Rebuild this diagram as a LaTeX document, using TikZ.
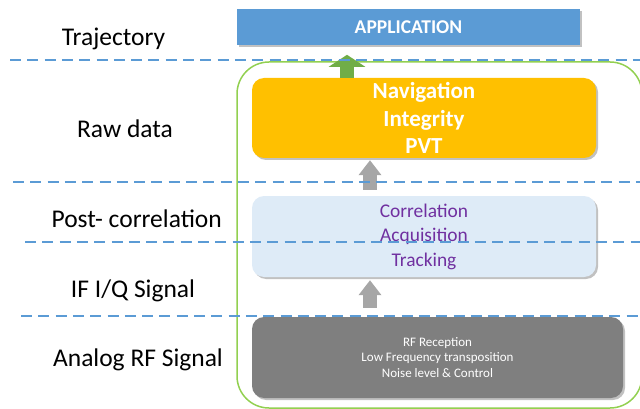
\documentclass[tikz,border=0pt]{standalone}
\usepackage{fontspec}
\setmainfont{Carlito}
\usetikzlibrary{arrows.meta,shadows}
\definecolor{appblue}{HTML}{5B9BD5}
\definecolor{orng}{HTML}{FFC000}
\definecolor{lblue}{HTML}{DEEBF7}
\definecolor{dgray}{HTML}{7F7F7F}
\definecolor{agray}{HTML}{A6A6A6}
\definecolor{agreen}{HTML}{70AD47}
\definecolor{cgreen}{HTML}{92D050}
\definecolor{purp}{HTML}{7030A0}
\tikzset{
  lbl/.style={anchor=base, text=black, font=\fontsize{25.5}{30}\selectfont, inner sep=0pt},
  shad/.style={drop shadow={shadow xshift=2pt, shadow yshift=-2pt, opacity=0.35, fill=black!70}},
  box/.style={rounded corners=12pt, inner sep=0pt, align=center, shad},
  dashline/.style={draw=appblue, line width=2.7pt, dash pattern=on 11pt off 6.3pt},
  grayarrow/.style={draw=agray, line width=14pt, -{Triangle[width=22pt,length=15pt]}},
  greenarrow/.style={draw=agreen, line width=14pt, -{Triangle[width=36pt,length=12pt]}},
}
\begin{document}
\begin{tikzpicture}[x=1pt,y=-1pt]
\useasboundingbox (0,0) rectangle (640,409);
% container
\draw[cgreen, line width=1.5pt, rounded corners=32pt] (237,62) rectangle (642,408);
% boxes
\node[box, rounded corners=0pt, fill=appblue, minimum width=343pt, minimum height=36pt,
  text=white, font=\bfseries\fontsize{19.5}{22}\selectfont] (app) at (408.5,27) {APPLICATION};
\node[box, fill=orng, minimum width=344pt, minimum height=80pt,
  text=white, font=\bfseries\fontsize{23}{27.5}\selectfont] (raw) at (424,118) {Navigation\\Integrity\\PVT};
\node[box, fill=lblue, minimum width=344pt, minimum height=81pt,
  text=purp, font=\fontsize{19.4}{24.5}\selectfont] (corr) at (424,236.5) {Correlation\\Acquisition\\Tracking};
\node[box, fill=dgray, minimum width=371pt, minimum height=81pt,
  text=white, font=\fontsize{13}{15.5}\selectfont] (rf) at (437.5,357.5) {RF Reception\\Low Frequency transposition\\Noise level \& Control};
% arrows
\coordinate (ga) at (370,0);
\coordinate (gr) at (347,0);
\draw[greenarrow] (raw.north -| gr) -- ([yshift=23pt]raw.north -| gr);
\draw[grayarrow] ([yshift=6pt]corr.north -| ga) -- ([yshift=-2pt]raw.south -| ga);
\draw[grayarrow] ([yshift=9pt]rf.north -| ga) -- ([yshift=-3pt]corr.south -| ga);
% separators
\draw[dashline] (10,60) -- (640,60);
\draw[dashline] (13,182) -- (640,182);
\draw[dashline] (25,242) -- (640,242);
\draw[dashline] (21,316) -- (640,316);
% labels
\node[lbl] (l1) at (113.5,46) {Trajectory};
\node[lbl] (l2) at (125,138) {Raw data};
\node[lbl] (l3) at (136.7,227) {Post- correlation};
\node[lbl] (l4) at (133,297) {IF I/Q Signal};
\node[lbl] (l5) at (138,366) {Analog RF Signal};
\end{tikzpicture}
\end{document}
